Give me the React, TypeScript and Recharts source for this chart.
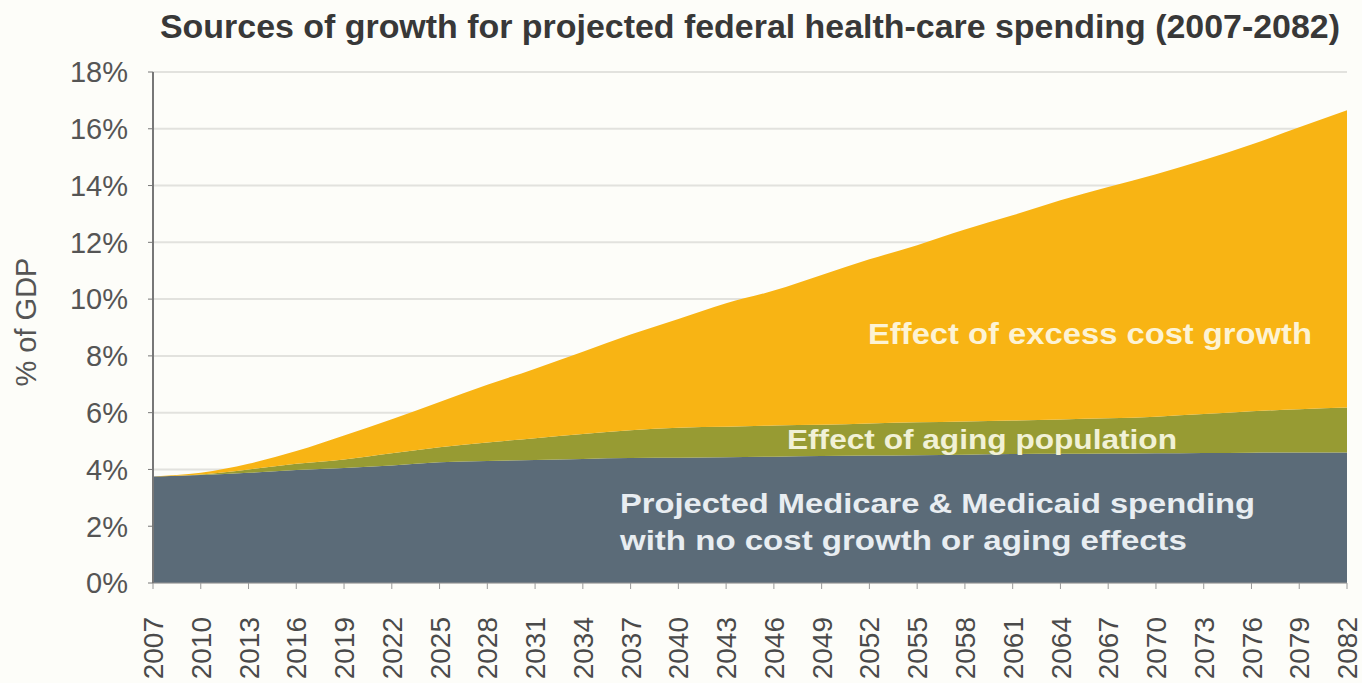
import React from 'react';
import { AreaChart, Area, XAxis, YAxis, CartesianGrid } from 'recharts';

const years = [
  2007, 2010, 2013, 2016, 2019, 2022, 2025, 2028, 2031, 2034, 2037, 2040, 2043,
  2046, 2049, 2052, 2055, 2058, 2061, 2064, 2067, 2070, 2073, 2076, 2079, 2082,
];

// % of GDP
const baseline = [
  3.75, 3.8, 3.88, 3.98, 4.05, 4.14, 4.25, 4.3, 4.33, 4.37, 4.4, 4.41, 4.43,
  4.45, 4.47, 4.49, 4.5, 4.52, 4.54, 4.55, 4.56, 4.57, 4.58, 4.59, 4.6, 4.6,
];
const agingEffect = [
  0, 0.02, 0.12, 0.22, 0.3, 0.43, 0.53, 0.65, 0.77, 0.88, 0.98, 1.06, 1.07,
  1.1, 1.1, 1.13, 1.16, 1.17, 1.18, 1.21, 1.24, 1.29, 1.37, 1.46, 1.52, 1.58,
];
const excessCostEffect = [
  0, 0.06, 0.2, 0.45, 0.85, 1.2, 1.6, 2.03, 2.45, 2.9, 3.37, 3.83, 4.35,
  4.75, 5.28, 5.78, 6.24, 6.76, 7.23, 7.72, 8.15, 8.54, 8.95, 9.4, 9.93, 10.47,
];

const yTicks = [0, 2, 4, 6, 8, 10, 12, 14, 16, 18];

const data = years.map((year, i) => ({
  year,
  baseline: baseline[i],
  aging: agingEffect[i],
  excess: excessCostEffect[i],
}));

const FONT = '"Liberation Sans", Arial, sans-serif';

const YearTick = (props: any) => {
  const { x, y, payload } = props;
  return (
    <g transform={`translate(${x},${y + 26}) rotate(-90)`}>
      <text textAnchor="end" dy="0.36em" fontSize={28} fill="#4a4a4a" fontFamily={FONT}>
        {payload.value}
      </text>
    </g>
  );
};

const App: React.FC = () => {
  return (
    <div
      style={{
        position: 'absolute',
        left: 0,
        top: 0,
        width: 1362,
        height: 683,
        background: '#fdfdf9',
        overflow: 'hidden',
      }}
    >
      <AreaChart
        width={1362}
        height={683}
        data={data}
        margin={{ top: 72, right: 15, bottom: 0, left: 0 }}
      >
        <CartesianGrid vertical={false} stroke="#e2e2de" strokeWidth={2} />
        <XAxis
          dataKey="year"
          type="number"
          domain={[2007, 2082]}
          ticks={years}
          interval={0}
          height={100}
          tick={<YearTick />}
          tickSize={6}
          tickLine={{ stroke: '#999' }}
          axisLine={{ stroke: '#999', strokeWidth: 1 }}
        />
        <YAxis
          domain={[0, 18]}
          ticks={yTicks}
          width={153}
          tickSize={5}
          tickMargin={20}
          tickFormatter={(v: number) => `${v}%`}
          tick={{ fontSize: 29, fill: '#555', fontFamily: FONT }}
          tickLine={{ stroke: '#777' }}
          axisLine={{ stroke: '#777', strokeWidth: 2 }}
        />
        <Area
          type="monotone"
          dataKey="baseline"
          stackId="s"
          stroke="none"
          fill="#5b6b78"
          fillOpacity={1}
          isAnimationActive={false}
        />
        <Area
          type="monotone"
          dataKey="aging"
          stackId="s"
          stroke="none"
          fill="#979b33"
          fillOpacity={1}
          isAnimationActive={false}
        />
        <Area
          type="monotone"
          dataKey="excess"
          stackId="s"
          stroke="none"
          fill="#f8b414"
          fillOpacity={1}
          isAnimationActive={false}
        />
      </AreaChart>

      <svg
        width={1362}
        height={683}
        style={{ position: 'absolute', left: 0, top: 0, pointerEvents: 'none' }}
        fontFamily={FONT}
      >
        <text
          x={160}
          y={38}
          fontSize={33}
          fontWeight="bold"
          fill="#383838"
          textLength={1180}
          lengthAdjust="spacingAndGlyphs"
        >
          Sources of growth for projected federal health-care spending (2007-2082)
        </text>
        <text
          transform="translate(36,322) rotate(-90)"
          textAnchor="middle"
          fontSize={29}
          fill="#555"
        >
          % of GDP
        </text>
        <text
          x={868}
          y={344}
          fontSize={29}
          fontWeight="bold"
          fill="#fdf3d4"
          textLength={444}
          lengthAdjust="spacingAndGlyphs"
        >
          Effect of excess cost growth
        </text>
        <text
          x={787}
          y={449}
          fontSize={28}
          fontWeight="bold"
          fill="#f1f1d6"
          textLength={390}
          lengthAdjust="spacingAndGlyphs"
        >
          Effect of aging population
        </text>
        <text
          x={620}
          y={513}
          fontSize={28}
          fontWeight="bold"
          fill="#e8edf1"
          textLength={635}
          lengthAdjust="spacingAndGlyphs"
        >
          Projected Medicare &amp; Medicaid spending
        </text>
        <text
          x={620}
          y={550}
          fontSize={28}
          fontWeight="bold"
          fill="#e8edf1"
          textLength={567}
          lengthAdjust="spacingAndGlyphs"
        >
          with no cost growth or aging effects
        </text>
      </svg>
    </div>
  );
};

export default App;
